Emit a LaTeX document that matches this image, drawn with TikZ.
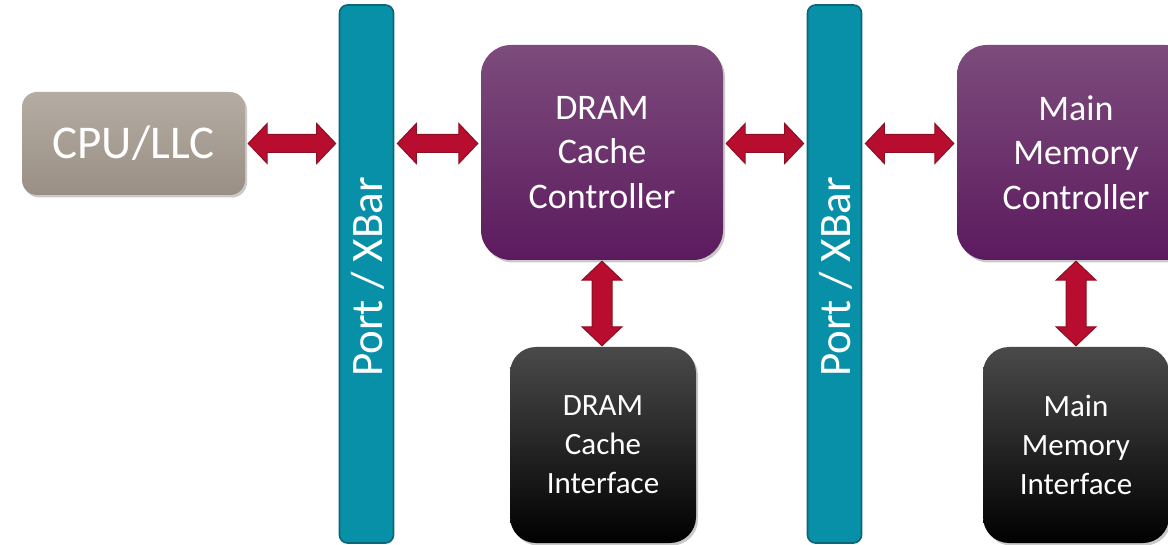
\documentclass[tikz,border=0pt]{standalone}
\usepackage{fontspec}
\setmainfont{Carlito}
\usetikzlibrary{shadows,calc}
\definecolor{cputop}{HTML}{B5ACA3}
\definecolor{cpubot}{HTML}{998F84}
\definecolor{purtop}{HTML}{7C4C7C}
\definecolor{purmid}{HTML}{662466}
\definecolor{purbot}{HTML}{5C1A5E}
\definecolor{blktop}{HTML}{4A4A4A}
\definecolor{barfill}{HTML}{0790A8}
\definecolor{barline}{HTML}{0B6678}
\definecolor{arrred}{HTML}{B80D2E}
\definecolor{arrdark}{HTML}{8C0F24}
\newcommand\hdarrow[3]{%
  \path let \p1=(#1), \p2=(#2), \p3=(#3) in [dblarrow]
    (\x1+3pt,\y3) -- (\x1+22pt,\y3+20pt) -- (\x1+22pt,\y3+9pt) --
    (\x2-22pt,\y3+9pt) -- (\x2-22pt,\y3+20pt) -- (\x2-3pt,\y3) --
    (\x2-22pt,\y3-20pt) -- (\x2-22pt,\y3-9pt) -- (\x1+22pt,\y3-9pt) --
    (\x1+22pt,\y3-20pt) -- cycle;}
\newcommand\vdarrow[2]{%
  \path let \p1=(#1), \p2=(#2) in [dblarrow]
    (\x1,\y1-1pt) -- (\x1+20pt,\y1-20pt) -- (\x1+10pt,\y1-20pt) --
    (\x1+10pt,\y2+20pt) -- (\x1+20pt,\y2+20pt) -- (\x1,\y2+1pt) --
    (\x1-20pt,\y2+20pt) -- (\x1-10pt,\y2+20pt) -- (\x1-10pt,\y1-20pt) --
    (\x1-20pt,\y1-20pt) -- cycle;}
\begin{document}
\begin{tikzpicture}[x=1pt,y=-1pt,
  softshadow/.style={drop shadow={shadow xshift=2pt,shadow yshift=-2.5pt,opacity=0.3,fill=black!70}},
  cpubox/.style={rounded corners=15pt, top color=cputop, bottom color=cpubot, draw=none,
    minimum width=223pt, minimum height=103pt, inner sep=0pt, text=white,
    font=\fontsize{47}{56}\selectfont, softshadow},
  ctlbox/.style={rounded corners=30pt, top color=purtop, middle color=purmid, bottom color=purbot, draw=none,
    minimum width=242pt, minimum height=215pt, inner sep=0pt, text=white, align=center,
    font=\fontsize{36}{44.5}\selectfont, softshadow},
  ifbox/.style={rounded corners=26pt, top color=blktop, middle color=black, bottom color=black, draw=none,
    minimum width=186pt, minimum height=196pt, inner sep=0pt, text=white, align=center,
    font=\fontsize{31}{39}\selectfont, softshadow},
  barbox/.style={rounded corners=8pt, fill=barfill, draw=barline, line width=1.6pt,
    minimum width=54pt, minimum height=538pt, inner sep=0pt},
  bartext/.style={text=white, rotate=90, font=\fontsize{45}{54}\selectfont, inner sep=0pt},
  dblarrow/.style={fill=arrred, draw=arrdark, line width=1pt, line join=miter}]
\useasboundingbox (0,0) rectangle (1168,545);
\clip (0,0) rectangle (1168,545);
\node[cpubox] (cpu) at (133.5,143.5) {CPU/LLC};
\node[barbox] (bar1) at (366.5,274) {};
\node[bartext] (bar1t) at (368,277) {Port / XBar};
\node[barbox] (bar2) at (834.5,274) {};
\node[bartext] (bar2t) at (836,277) {Port / XBar};
\node[ctlbox] (dctl) at (602,152.5) {DRAM\\Cache\\Controller};
\node[ctlbox, minimum width=238pt] (mctl) at (1076,152.5) {Main\\Memory\\Controller};
\node[ifbox] (dif) at (603,445) {DRAM\\Cache\\Interface};
\node[ifbox] (mif) at (1076,445) {Main\\Memory\\Interface};
\hdarrow{cpu.east}{bar1.west}{cpu.east}
\hdarrow{bar1.east}{dctl.west}{cpu.east}
\hdarrow{dctl.east}{bar2.west}{cpu.east}
\hdarrow{bar2.east}{mctl.west}{cpu.east}
\vdarrow{dctl.south}{dif.north}
\vdarrow{mctl.south}{mif.north}
\end{tikzpicture}
\end{document}
